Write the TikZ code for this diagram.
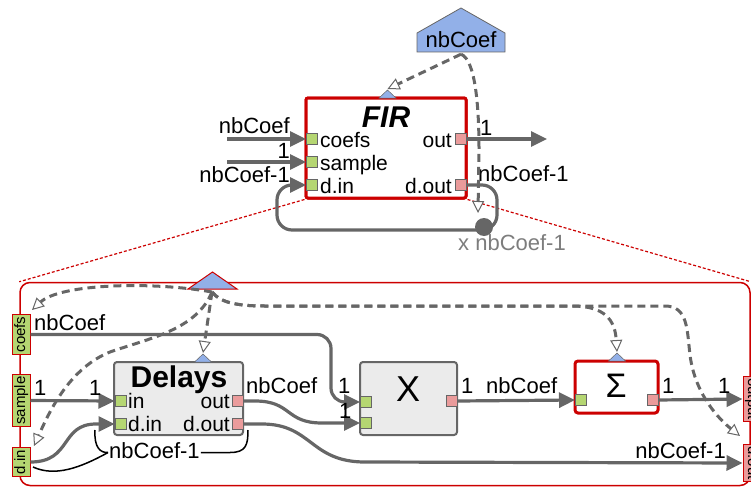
\documentclass[tikz,border=0pt]{standalone}
\usepackage{fontspec}
\setmainfont{Liberation Sans}
\usetikzlibrary{arrows.meta}
\definecolor{lgray}{RGB}{102,102,102}
\definecolor{pgreen}{RGB}{181,214,114}
\definecolor{ppink}{RGB}{234,155,155}
\definecolor{pblue}{RGB}{146,176,232}
\definecolor{fred}{RGB}{204,0,0}
\definecolor{boxgray}{RGB}{235,235,235}
\begin{document}
\begin{tikzpicture}[x=1pt,y=-1pt,
        conn/.style={draw=lgray, line width=3.2pt, -{Triangle[length=16pt,width=15pt]}},
        dep/.style={draw=lgray, line width=3pt, dash pattern=on 8pt off 5pt,
            -{Triangle[open,length=12pt,width=12pt,line width=1pt,fill=white]}},
        brace/.style={draw=black, line width=1.5pt},
        zoomln/.style={draw=fred, line width=1.2pt, dash pattern=on 3pt off 2pt},
        inport/.style={fill=pgreen, draw=lgray, line width=1pt, minimum size=11pt, inner sep=0pt},
        outport/.style={inport, fill=ppink},
        subin/.style={fill=pgreen, draw=fred, line width=1pt, font=\fontsize{15}{15}\selectfont,
            inner xsep=2pt, inner ysep=0pt, minimum height=18pt, text height=11pt, text depth=3pt},
        subout/.style={subin, fill=ppink},
        plbl/.style={font=\fontsize{21}{21}\selectfont, inner sep=1pt},
        elbl/.style={font=\fontsize{22}{22}\selectfont, inner sep=1pt, text height=16pt, text depth=5pt},
        firbox/.style={draw=fred, line width=3pt, fill=white, rounded corners=2pt,
            minimum width=160pt, minimum height=100pt},
        blockbox/.style={fill=boxgray, draw=lgray, line width=2pt, rounded corners=3pt,
            minimum width=#1, minimum height=73pt},
        sigbox/.style={fill=white, draw=fred, line width=3pt, rounded corners=3pt,
            minimum width=83pt, minimum height=52pt},
        subbox/.style={draw=fred, line width=1.5pt, rounded corners=10pt,
            minimum width=730pt, minimum height=203pt}]
    \useasboundingbox (0,0) rectangle (751,487);
    \clip (0,0) rectangle (751,487);

    \node[subbox] (sub) at (385,384) {};

    \filldraw[fill=pblue, draw=lgray, line width=0.8pt] (417,52) -- (417,33) -- (461,8) -- (505,33) -- (505,52) -- cycle;
    \node[elbl, anchor=base] (nbc) at (461,48) {nbCoef};

    \node[firbox] (fir) at (386,148) {};
    \draw[zoomln] (fir.south west) -- (sub.north west);
    \draw[zoomln] (fir.south east) -- (sub.north east);
    \node[firbox] at (386,148) {};
    \node[font=\fontsize{30}{30}\selectfont\bfseries\itshape, anchor=base] (fir-title) at (386,127) {FIR};
    \filldraw[fill=pblue, draw=lgray, line width=0.5pt] (379,98) -- (387.5,90) -- (396,98) -- cycle;
    \coordinate (fir-par) at (387.5,89);

    \node[inport] (fir-coefs) at (312,139) {};
    \node[inport] (fir-sample) at (312,162) {};
    \node[inport] (fir-din) at (312,185) {};
    \node[outport] (fir-out) at (460.5,139) {};
    \node[outport] (fir-dout) at (460.5,185) {};
    \node[plbl, anchor=base west] (fl-coefs) at (319,147) {coefs};
    \node[plbl, anchor=base west] (fl-sample) at (319,170) {sample};
    \node[plbl, anchor=base west] (fl-din) at (319,193) {d.in};
    \node[plbl, anchor=base east] (fl-out) at (453,147) {out};
    \node[plbl, anchor=base east] (fl-dout) at (453,193) {d.out};

    \coordinate (fin1) at (227,139);
    \coordinate (fin2) at (227,162);
    \coordinate (fout) at (547,139);
    \draw[conn] (fin1) -- (fir-coefs.west);
    \draw[conn] (fin2) -- (fir-sample.west);
    \draw[conn] (fir-out.east) -- (fout);
    \draw[conn, rounded corners=15pt] (fir-dout.east) -- (497,185) -- (497,230) -- (277,230) -- (277,185) -- (fir-din.west);
    \node[circle, fill=lgray, inner sep=0pt, minimum size=18pt] (cnt) at (484,227) {};
    \coordinate (cnt-in) at (478,213);

    \node[elbl, anchor=base east] (el-c) at (291,133) {nbCoef};
    \node[elbl, anchor=base east] (el-s) at (291,158) {1};
    \node[elbl, anchor=base east] (el-d) at (291,182) {nbCoef-1};
    \node[elbl, anchor=base west] (el-o) at (479,135) {1};
    \node[elbl, anchor=base west] (el-do) at (477,181) {nbCoef-1};
    \node[elbl, anchor=base west, text=lgray!85] (el-cnt) at (457,250) {x nbCoef-1};

    \draw[dep] (nbc.south) -- (fir-par);
    \draw[dep] (nbc.south) .. controls (476,60) and (479,110) .. (479,150) -- (cnt-in);

    \filldraw[fill=pblue, draw=fred, line width=1pt] (188,289) -- (212.5,272) -- (237,289) -- cycle;
    \coordinate (sub-par) at (212,292);

    \node[subin, rotate=90] (s-coefs) at (21,334.5) {coefs};
    \node[subin, rotate=90] (s-sample) at (21,400.5) {sample};
    \node[subin, rotate=90] (s-din) at (21,462) {d.in};
    \node[subout, rotate=-90] (o-out) at (752,399) {output};
    \node[subout, rotate=-90] (o-dout) at (752,463) {d.out};

    \node[blockbox=129pt] (del) at (178.5,398.5) {};
    \node[font=\fontsize{30}{30}\selectfont\bfseries, anchor=base] (del-title) at (179,387) {Delays};
    \filldraw[fill=pblue, draw=lgray, line width=0.5pt] (194.5,362) -- (203,354) -- (211.5,362) -- cycle;
    \coordinate (del-par) at (203,353);
    \node[inport] (del-in) at (120.5,401) {};
    \node[inport] (del-din) at (120.5,424) {};
    \node[outport] (del-out) at (237.5,401) {};
    \node[outport] (del-dout) at (237.5,424) {};
    \node[plbl, anchor=base west] (dl-in) at (127,408) {in};
    \node[plbl, anchor=base west] (dl-din) at (127,431) {d.in};
    \node[plbl, anchor=base east] (dl-out) at (231,408) {out};
    \node[plbl, anchor=base east] (dl-dout) at (231,431) {d.out};

    \node[blockbox=97pt] (mul) at (408.5,398.5) {};
    \node[font=\fontsize{36}{36}\selectfont, anchor=base] (mul-title) at (408,401) {X};
    \node[inport] (mul-in1) at (366,402) {};
    \node[inport] (mul-in2) at (366,423) {};
    \node[outport] (mul-out) at (451.5,401) {};

    \node[sigbox] (sig) at (616.5,387) {};
    \node[font=\fontsize{34}{34}\selectfont, anchor=base] (sig-title) at (616,397) {Σ};
    \filldraw[fill=pblue, draw=lgray, line width=0.5pt] (608.5,361) -- (617,353) -- (625.5,361) -- cycle;
    \coordinate (sig-par) at (617,352);
    \node[inport] (sig-in) at (581,400) {};
    \node[outport] (sig-out) at (652.5,400) {};

    \draw[conn, rounded corners=14pt] (s-coefs.south) -- (331,334.5) -- (331,402) -- (mul-in1.west);
    \draw[conn] (s-sample.south) -- (del-in.west);
    \draw[conn] (s-din.south) .. controls (72,462) and (60,424) .. (96,424) -- (del-din.west);
    \draw[conn] (del-out.east) -- (255,401) .. controls (292,401) and (285,423) .. (322,423) -- (mul-in2.west);
    \draw[conn] (del-dout.east) -- (262,424) .. controls (312,424) and (310,462) .. (365,462) -- (o-dout.south);
    \draw[conn] (mul-out.east) -- (sig-in.west);
    \draw[conn] (sig-out.east) -- (o-out.south);

    \node[elbl, anchor=base west] (l-coefs) at (33,330) {nbCoef};
    \node[elbl, anchor=base west] (l-s1) at (33,395) {1};
    \node[elbl, anchor=base west] (l-s2) at (88,395) {1};
    \node[elbl, anchor=base west] (l-do) at (245,393) {nbCoef};
    \node[elbl, anchor=base west] (l-m1) at (337,393) {1};
    \node[elbl, anchor=base west] (l-m2) at (338,418) {1};
    \node[elbl, anchor=base west] (l-mo) at (460,393) {1};
    \node[elbl, anchor=base west] (l-mo2) at (485,393) {nbCoef};
    \node[elbl, anchor=base west] (l-so) at (661,393) {1};
    \node[elbl, anchor=base west] (l-oo) at (717,393) {1};
    \node[elbl, anchor=base east] (l-dd) at (727,458) {nbCoef-1};
    \node[elbl, anchor=base west] (l-del) at (108,458) {nbCoef-1};

    \draw[brace] (95,430) .. controls (94,447) and (100,453) .. (l-del.west);
    \draw[brace] (33,467) .. controls (55,477) and (80,468) .. (l-del.west);
    \draw[brace] (l-del.east) -- (230,452.5) .. controls (246,452.5) and (248,445) .. (248,430);

    \coordinate (d-coefs) at (32,310);
    \coordinate (d-din) at (34,446);
    \coordinate (d-dout) at (740,436);
    \draw[dep] (sub-par) .. controls (150,281) and (60,284) .. (d-coefs);
    \draw[dep] (sub-par) .. controls (196,330) and (150,338) .. (110,352) .. controls (70,368) and (50,410) .. (d-din);
    \draw[dep] (sub-par) -- (del-par);
    \draw[dep] (sub-par) .. controls (220,302) and (235,306) .. (265,306) -- (572,306) .. controls (605,306) and (615,320) .. (sig-par);
    \draw[dep] (sub-par) .. controls (220,302) and (235,306) .. (265,306) -- (665,306) .. controls (688,306) and (687,330) .. (690,355) .. controls (695,395) and (720,420) .. (d-dout);
\end{tikzpicture}
\end{document}
